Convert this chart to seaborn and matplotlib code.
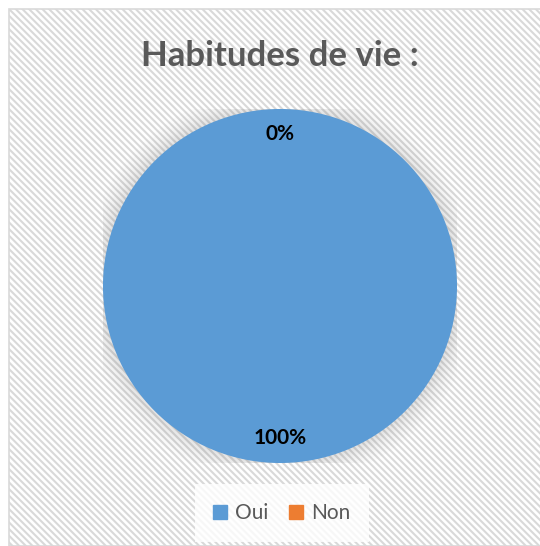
import matplotlib
matplotlib.use("Agg")
import matplotlib.pyplot as plt
import matplotlib.patches as mpatches
import seaborn as sns

labels = ["Oui", "Non"]
values = [100, 0]
colors = ["#5B9BD5", "#ED7D31"]
title = "Habitudes de vie :"

sns.set_theme(style="white")
plt.rcParams['font.family'] = ['Lato', 'DejaVu Sans']
plt.rcParams['hatch.color'] = '#F6F6F6'
plt.rcParams['hatch.linewidth'] = 1.5

fig = plt.figure(figsize=(5.40, 5.46), dpi=100)

# chart area background with faint diagonal stripes
bg = mpatches.Rectangle((9 / 540, 0), 1, 1 - 9 / 546, transform=fig.transFigure,
                        facecolor="white", edgecolor="#D9D9D9", linewidth=1.2,
                        hatch="\\\\\\\\\\", zorder=-10)
fig.patches.append(bg)

ax = fig.add_axes([0.1907, 0.152, 0.6556, 0.6484])
ax.set_zorder(5)
ax.set_facecolor("none")
ax.patch.set_alpha(0)

# soft shadow around the pie
for r in [1.12, 1.10, 1.08, 1.065, 1.05, 1.04, 1.03, 1.02, 1.01]:
    ax.add_patch(mpatches.Circle((0, 0), r, facecolor="#808080", alpha=0.025,
                                 edgecolor="none", zorder=0))

wedges, texts, autotexts = ax.pie(values, colors=colors, startangle=90, counterclock=False,
                                  autopct="%.0f%%", pctdistance=0.86,
                                  wedgeprops=dict(linewidth=0),
                                  textprops=dict(fontsize=15, fontweight="bold", color="black"))
ax.set_xlim(-1, 1)
ax.set_ylim(-1, 1)
ax.set_aspect("equal")

fig.text(0.5185, 0.898, title, ha="center", va="center", fontsize=25,
         fontweight="bold", color="#595959")

handles = [mpatches.Patch(color=c, label=l) for c, l in zip(colors, labels)]
leg = fig.legend(handles=handles, loc="center", bbox_to_anchor=(0.522, 0.06), ncol=2,
                 frameon=True, fontsize=15, handlelength=0.65, handleheight=0.65,
                 handletextpad=0.4, columnspacing=1.0, borderpad=0.6)
leg.get_frame().set_facecolor("white")
leg.get_frame().set_edgecolor("none")
leg.get_frame().set_boxstyle("square")
for t in leg.get_texts():
    t.set_color("#595959")

fig.savefig("out.png", dpi=100)
